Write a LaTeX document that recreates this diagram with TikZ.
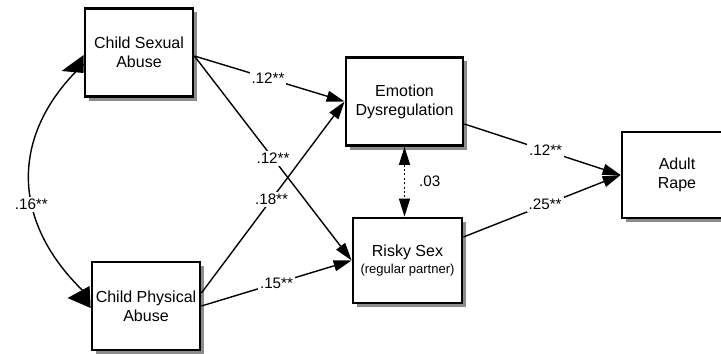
\documentclass[tikz,border=0pt]{standalone}
\usepackage{fontspec}
\setmainfont{Liberation Sans}
\usepackage{tikz}
\usetikzlibrary{arrows.meta}
\usetikzlibrary{shadows}
\usetikzlibrary{calc}

\begin{document}
\begin{tikzpicture}[x=.5pt, y=-.5pt,
  varbox/.style={draw, line width=1.4pt, fill=white, align=center, inner sep=0pt,
    minimum width=54pt, minimum height=44pt, font=\fontsize{8}{9.4}\selectfont,
    drop shadow={shadow xshift=2pt, shadow yshift=-2pt, fill=black!45, opacity=1}},
  path/.style={line width=.7pt, -{Triangle[length=9pt, width=5.5pt]}},
  coef/.style={fill=white, inner sep=1pt, font=\fontsize{7.6}{9}\selectfont}]
  \useasboundingbox (0,0) rectangle (721,353);
  \node[varbox] (csa) at (139, 52.5) {Child Sexual\\Abuse};
  \node[varbox] (cpa) at (146, 306) {Child Physical\\Abuse};
  \node[varbox, minimum width=58.5pt] (ed) at (404.5, 101.5) {Emotion\\Dysregulation};
  \node[varbox, minimum width=54.5pt, minimum height=42.5pt] (rs) at (407.5, 260.5)
    {\raisebox{-1pt}{Risky Sex}\\[0pt]{\fontsize{6.5}{8}\selectfont(regular partner)}};
  \node[varbox, minimum width=55pt, minimum height=43pt] (ar) at (677, 175) {Adult\\Rape};
  \coordinate (csaout) at ($(csa.east)+(0,3.5)$);
  \coordinate (cpaout) at ($(cpa.east)+(0,-13)$);
  \coordinate (edout) at ($(ed.east)+(0,22.5)$);
  \coordinate (rsout) at ($(rs.east)+(0,-23.5)$);
  \draw[path] (csaout) -- (ed.west) node[coef, pos=.49] {.12**};
  \draw[path] (csaout) -- (rs.west) node[coef, pos=.5] {.12**};
  \draw[path] (cpaout) -- (ed.west) node[coef, pos=.49] {.18**};
  \draw[path] (cpa.east) -- (rs.west) node[coef, pos=.5] {.15**};
  \draw[path] (edout) -- (ar.west) node[coef, pos=.52] {.12**};
  \draw[path] (rsout) -- (ar.west) node[coef, pos=.52] {.25**};
  \draw[line width=.7pt, dash pattern=on 1pt off 1.2pt,
    {Triangle[length=9pt, width=5.5pt]}-{Triangle[length=9pt, width=5.5pt]}]
    (ed.south) -- (ed.south |- rs.north) node[coef, midway, right=6pt] {.03};
  \coordinate (csacov) at ($(csa.west)+(0,11.5)$);
  \coordinate (cpacov) at ($(cpa.west)+(-1,-9)$);
  \draw[line width=.7pt] (csacov) .. controls (8,135) and (10,225) .. (cpacov)
    node[coef, pos=.6] {.16**};
  \fill (csacov) ++(0,-9) -- ++(0,18) -- ++(-22,-2) -- cycle;
  \fill (cpacov) ++(0,-11) -- ++(1,22) -- ++(-23,-10) -- cycle;
\end{tikzpicture}
\end{document}
